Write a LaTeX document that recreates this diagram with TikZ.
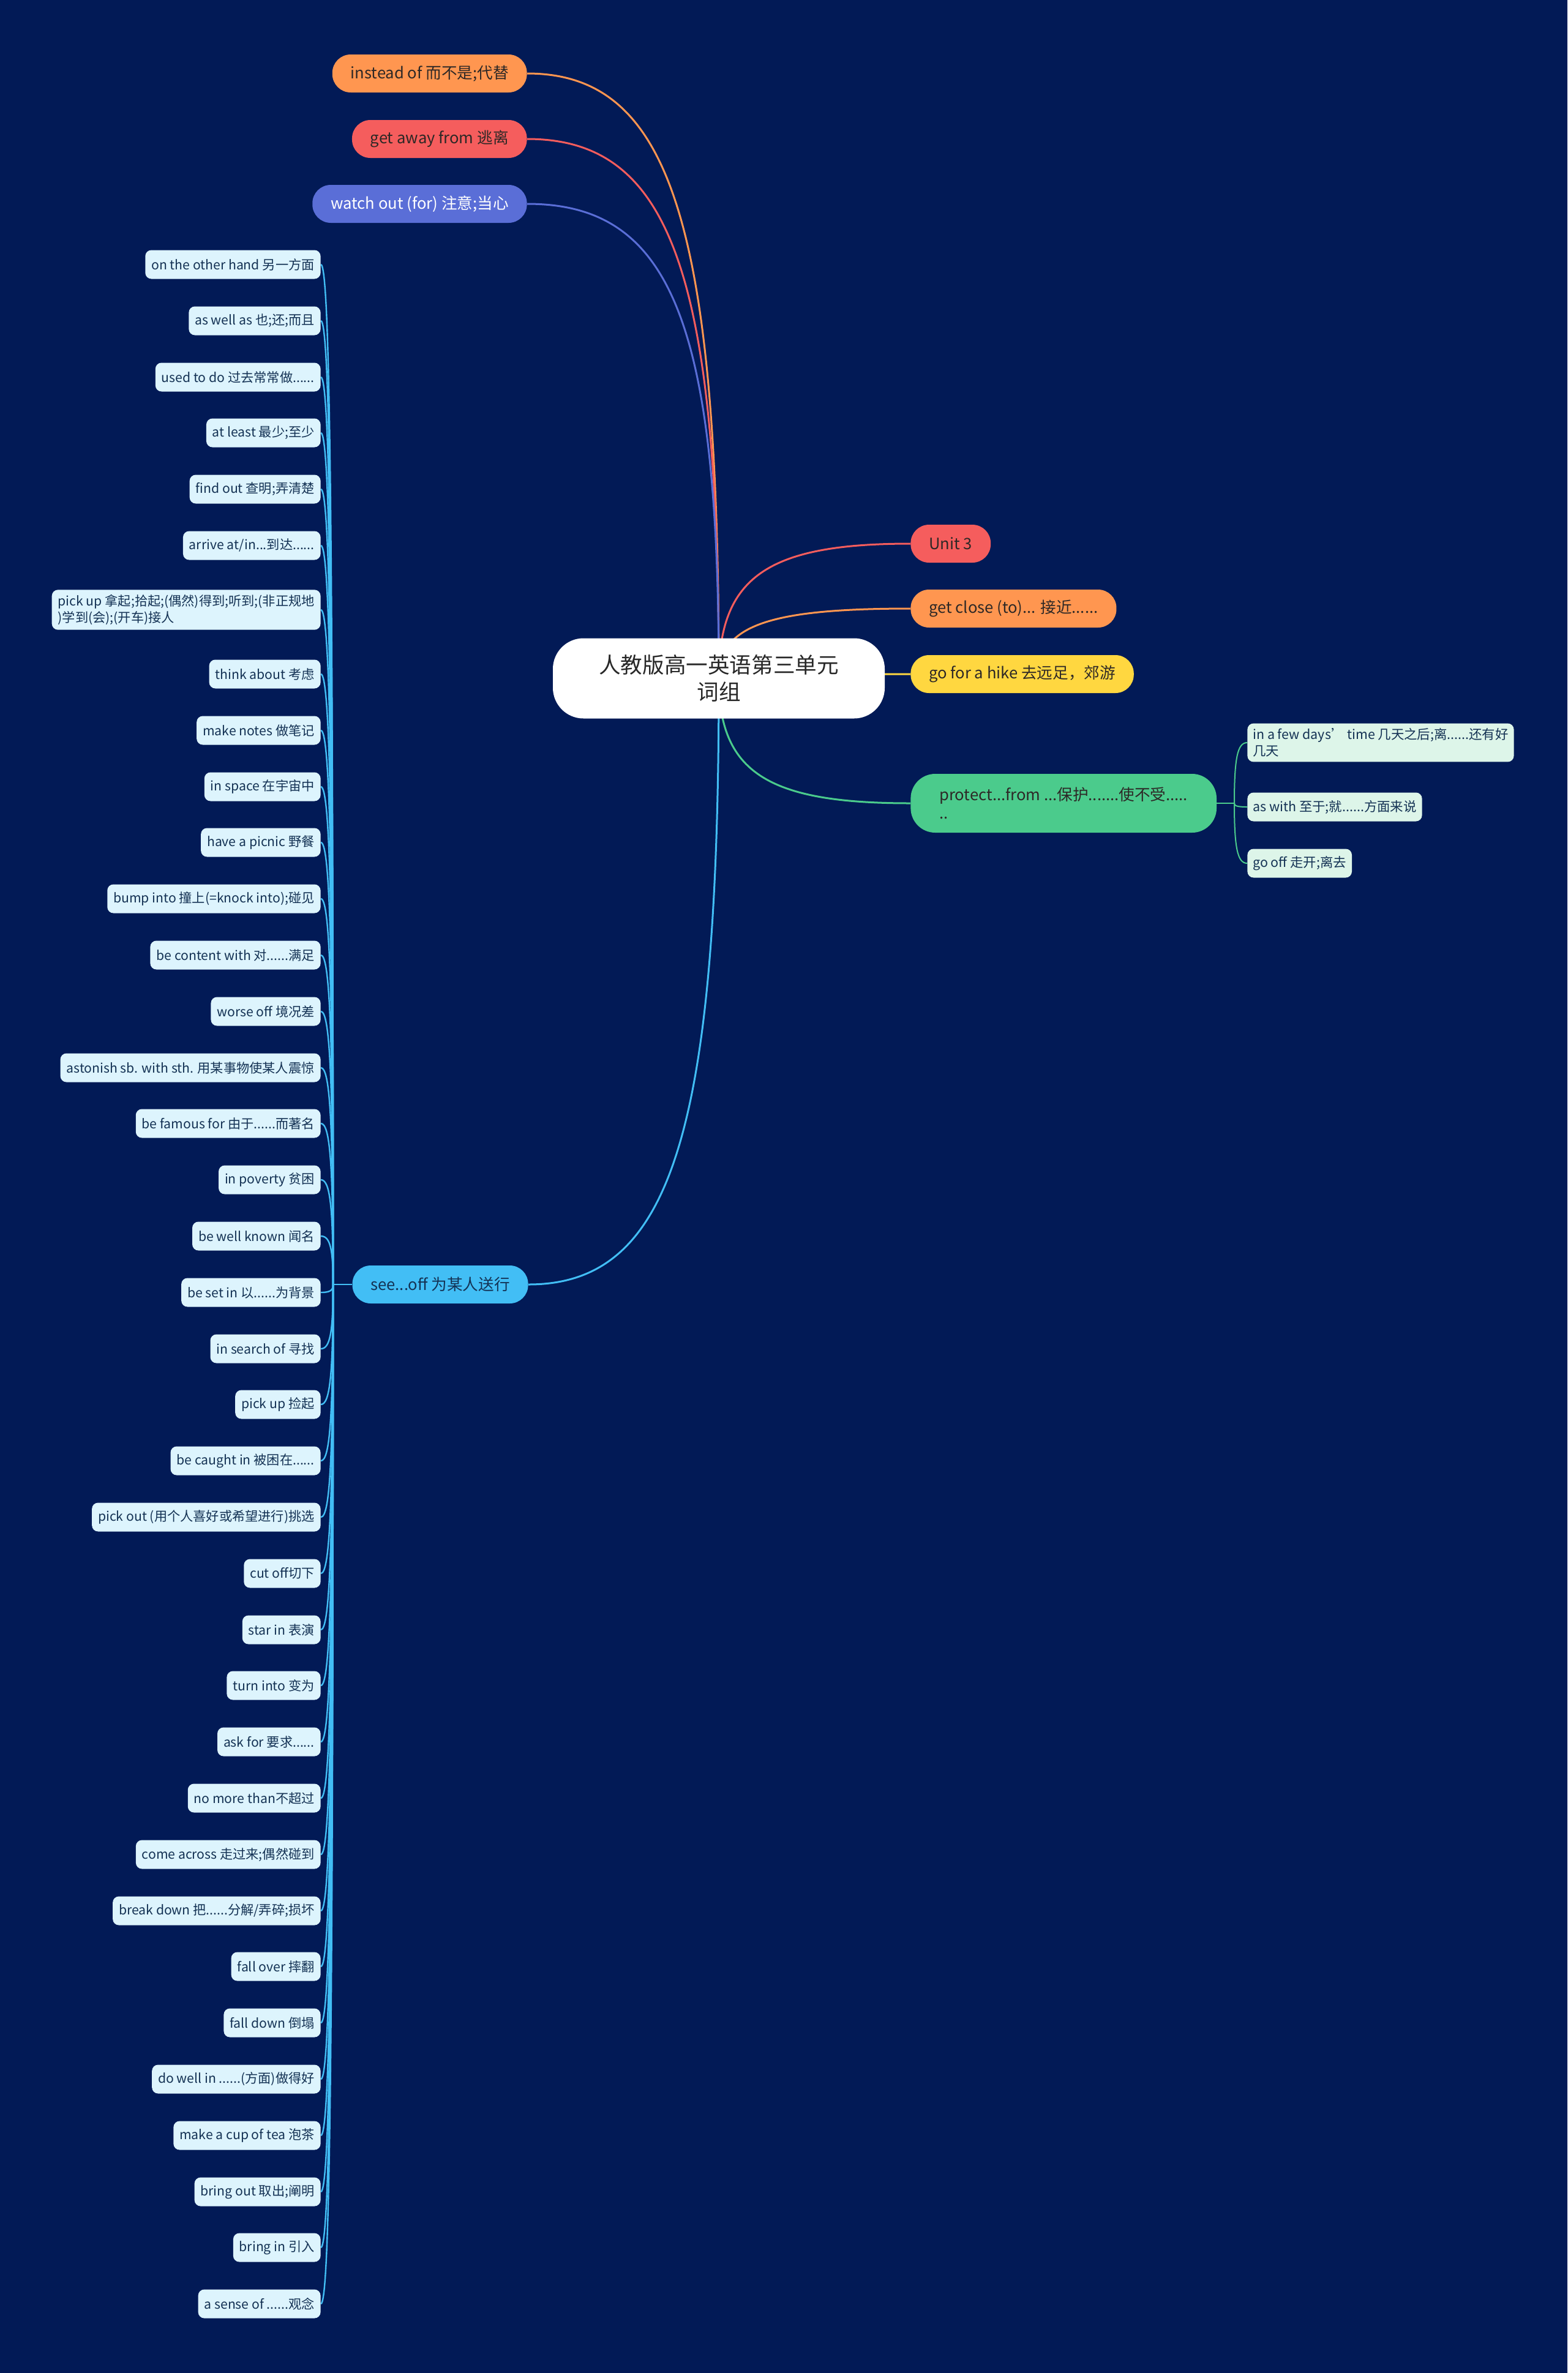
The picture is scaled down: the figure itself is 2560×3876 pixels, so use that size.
\documentclass[tikz,border=0pt]{standalone}
\usepackage{fontspec}
\setmainfont{Noto Sans CJK SC}
\usetikzlibrary{calc}
\definecolor{bgc}{RGB}{2,26,86}
\definecolor{corange}{RGB}{255,150,80}
\definecolor{cred}{RGB}{245,93,93}
\definecolor{cblue}{RGB}{90,110,215}
\definecolor{cyellow}{RGB}{255,215,64}
\definecolor{cgreen}{RGB}{75,203,140}
\definecolor{csky}{RGB}{66,190,245}
\definecolor{leaffill}{RGB}{221,244,253}
\definecolor{subfill}{RGB}{221,245,233}
\definecolor{leaftext}{RGB}{20,50,84}
\definecolor{maintext}{RGB}{45,40,38}
\definecolor{roottext}{RGB}{40,40,40}
\pgfdeclarelayer{back}
\pgfdeclarelayer{bg}
\pgfsetlayers{back,bg,main}
\newcommand\mylink[3]{%
  \path (#2 |- #1) coordinate (cc);
  \draw[#3] (#1) .. controls ($(#1)!0.75!(cc)$) and ($(#2)!0.75!(cc)$) .. (#2);
}
\tikzset{
  mainnode/.style={rounded corners=15pt, minimum height=31pt, inner xsep=15pt, inner ysep=3pt,
    font=\fontsize{12.8}{15}\selectfont, text=maintext},
  rootnode/.style={fill=white, rounded corners=25pt, minimum width=271pt, minimum height=65.5pt,
    align=center, font=\fontsize{17.8}{21.7}\selectfont, text=roottext},
  leaf/.style={fill=leaffill, rounded corners=5pt, inner xsep=5pt, inner ysep=4pt,
    minimum height=23.5pt, font=\fontsize{10.6}{13.5}\selectfont, text=leaftext, anchor=east, align=left},
  subleaf/.style={fill=subfill, rounded corners=5pt, inner xsep=4.5pt, inner ysep=4pt,
    minimum height=23.5pt, font=\fontsize{10.7}{13.5}\selectfont, text=leaftext, anchor=west, align=left},
  edge/.style={line width=1.5pt},
  leafedge/.style={line width=1.2pt, draw=csky},
  subedge/.style={line width=1pt, draw=cgreen},
}
\begin{document}
\begin{tikzpicture}[x=0.5pt,y=-0.5pt]
\useasboundingbox (0,0) rectangle (2560,3876);
\begin{pgfonlayer}{back}
\fill[bgc] (0,0) rectangle (2560,3876);
\end{pgfonlayer}

% root
\node[rootnode] (root) at (1174,1108) {人教版高一英语第三单元\\词组};

% left top
\node[mainnode, fill=corange, anchor=east] (inst) at (861,120) {instead of 而不是;代替};
\node[mainnode, fill=cred, anchor=east] (away) at (861,227) {get away from 逃离};
\node[mainnode, fill=cblue, anchor=east, text=white] (watch) at (861,333) {watch out (for) 注意;当心};
\node[mainnode, fill=csky, anchor=east, text=leaftext] (see) at (863,2098) {see...off 为某人送行};

% right
\node[mainnode, fill=cred, anchor=west] (unit) at (1487,888) {Unit 3};
\node[mainnode, fill=corange, anchor=west] (close) at (1487,994) {get close (to)... 接近......};
\node[mainnode, fill=cyellow, anchor=west] (hike) at (1487,1101) {go for a hike 去远足，郊游};
\node[mainnode, fill=cgreen, anchor=west, align=left, inner xsep=23.5pt, minimum height=48pt, rounded corners=20pt] (prot) at (1487,1312) {protect...from ...保护.......使不受.....\\..};

% protect children
\node[subleaf] (s1) at (2037,1213) {in a few days’ time 几天之后;离......还有好\\几天};
\node[subleaf] (s2) at (2037,1318) {as with 至于;就......方面来说};
\node[subleaf] (s3) at (2037,1410) {go off 走开;离去};

% leaves
\node[leaf] (l1) at (524,432) {on the other hand 另一方面};
\node[leaf] (l2) at (524,524) {as well as 也;还;而且};
\node[leaf] (l3) at (524,616) {used to do 过去常常做......};
\node[leaf] (l4) at (524,707) {at least 最少;至少};
\node[leaf] (l5) at (524,799) {find out 查明;弄清楚};
\node[leaf] (l6) at (524,891) {arrive at/in...到达......};
\node[leaf] (l7) at (524,996) {pick up 拿起;拾起;(偶然)得到;听到;(非正规地\\)学到(会);(开车)接人};
\node[leaf] (l8) at (524,1101) {think about 考虑};
\node[leaf] (l9) at (524,1193) {make notes 做笔记};
\node[leaf] (l10) at (524,1285) {in space 在宇宙中};
\node[leaf] (l11) at (524,1376) {have a picnic 野餐};
\node[leaf] (l12) at (524,1468) {bump into 撞上(=knock into);碰见};
\node[leaf] (l13) at (524,1560) {be content with 对......满足};
\node[leaf] (l14) at (524,1652) {worse off 境况差};
\node[leaf] (l15) at (524,1744) {astonish sb. with sth. 用某事物使某人震惊};
\node[leaf] (l16) at (524,1835) {be famous for 由于......而著名};
\node[leaf] (l17) at (524,1927) {in poverty 贫困};
\node[leaf] (l18) at (524,2019) {be well known 闻名};
\node[leaf] (l19) at (524,2111) {be set in 以......为背景};
\node[leaf] (l20) at (524,2203) {in search of 寻找};
\node[leaf] (l21) at (524,2294) {pick up 捡起};
\node[leaf] (l22) at (524,2386) {be caught in 被困在......};
\node[leaf] (l23) at (524,2478) {pick out (用个人喜好或希望进行)挑选};
\node[leaf] (l24) at (524,2570) {cut off切下};
\node[leaf] (l25) at (524,2662) {star in 表演};
\node[leaf] (l26) at (524,2753) {turn into 变为};
\node[leaf] (l27) at (524,2845) {ask for 要求......};
\node[leaf] (l28) at (524,2937) {no more than不超过};
\node[leaf] (l29) at (524,3029) {come across 走过来;偶然碰到};
\node[leaf] (l30) at (524,3121) {break down 把......分解/弄碎;损坏};
\node[leaf] (l31) at (524,3212) {fall over 摔翻};
\node[leaf] (l32) at (524,3304) {fall down 倒塌};
\node[leaf] (l33) at (524,3396) {do well in ......(方面)做得好};
\node[leaf] (l34) at (524,3488) {make a cup of tea 泡茶};
\node[leaf] (l35) at (524,3580) {bring out 取出;阐明};
\node[leaf] (l36) at (524,3671) {bring in 引入};
\node[leaf] (l37) at (524,3763) {a sense of ......观念};

\coordinate (trunk) at (544,2098);
\coordinate (ptrunk) at (2016,1312);

\begin{pgfonlayer}{bg}
  \mylink{inst.east}{root.center}{edge, draw=corange}
  \mylink{away.east}{root.center}{edge, draw=cred}
  \mylink{watch.east}{root.center}{edge, draw=cblue}
  \mylink{see.east}{root.center}{edge, draw=csky}
  \mylink{unit.west}{root.center}{edge, draw=cred}
  \mylink{close.west}{root.center}{edge, draw=corange}
  \mylink{hike.west}{root.center}{edge, draw=cyellow}
  \mylink{prot.west}{root.center}{edge, draw=cgreen}
  \draw[subedge] (prot.east) -- (ptrunk);
  \foreach \k in {1,2,3} {\mylink{s\k.west}{ptrunk}{subedge}}
  \draw[leafedge] (see.west) -- (trunk);
  \foreach \k in {1,...,37} {\mylink{l\k.east}{trunk}{leafedge}}
\end{pgfonlayer}
\end{tikzpicture}
\end{document}
